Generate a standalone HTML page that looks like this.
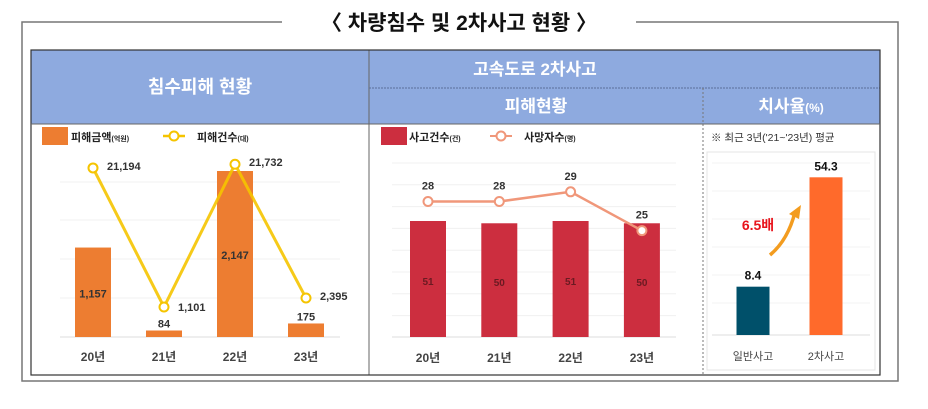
<!DOCTYPE html>
<html><head><meta charset="utf-8"><style>
html,body{margin:0;padding:0;background:#fff;}
svg{display:block;font-family:"Liberation Sans","Noto Sans CJK KR",sans-serif;}
</style></head><body>
<svg id="c" width="928" height="409" viewBox="0 0 928 409" xmlns="http://www.w3.org/2000/svg">
<g>
<polyline points="282,22 22,22 22,381 898,381 898,22 636,22" fill="none" stroke="#777" stroke-width="1.5"/>
</g>
<text x="459" y="30" text-anchor="middle" font-size="21" font-weight="bold" fill="#111">〈 차량침수 및 2차사고 현황 〉</text>
<g>
<rect x="31" y="50" width="849" height="74" fill="#8eaadf"/>
<line x1="369" y1="50" x2="369" y2="375" stroke="#666" stroke-width="1"/>
<line x1="369" y1="88" x2="880" y2="88" stroke="#5a6e99" stroke-dasharray="2,1"/>
<line x1="703" y1="88" x2="703" y2="375" stroke="#777" stroke-dasharray="2,2"/>
<rect x="31" y="50" width="849" height="325" fill="none" stroke="#333" stroke-width="1.2"/>
<line x1="31" y1="124" x2="880" y2="124" stroke="#666"/>
</g>
<text x="200" y="93" text-anchor="middle" font-size="18" font-weight="bold" fill="#fff">침수피해 현황</text>
<text x="535" y="75" text-anchor="middle" font-size="17" font-weight="bold" fill="#fff">고속도로 2차사고</text>
<text x="536" y="112" text-anchor="middle" font-size="17" font-weight="bold" fill="#fff">피해현황</text>
<text x="791" y="112" text-anchor="middle" font-size="17" font-weight="bold" fill="#fff">치사율<tspan font-size="12">(%)</tspan></text>

<g>
<rect x="42" y="127" width="26" height="18" fill="#ed7d31"/>
<text x="71" y="141" font-size="11" font-weight="bold" fill="#222">피해금액<tspan font-size="7">(억원)</tspan></text>
<line x1="163" y1="136" x2="185" y2="136" stroke="#f5c400" stroke-width="2.5"/>
<circle cx="174" cy="136" r="4.5" fill="#fff" stroke="#f5c400" stroke-width="2"/>
<text x="197" y="141" font-size="11" font-weight="bold" fill="#222">피해건수<tspan font-size="7">(대)</tspan></text>
</g>
<g>
<rect x="381" y="127" width="26" height="18" fill="#cc2e3f"/>
<text x="409" y="141" font-size="11" font-weight="bold" fill="#222">사고건수<tspan font-size="7">(건)</tspan></text>
<line x1="490" y1="136" x2="512" y2="136" stroke="#f0977a" stroke-width="2"/>
<circle cx="501" cy="136" r="4.5" fill="#fff" stroke="#f0977a" stroke-width="2"/>
<text x="524" y="141" font-size="11" font-weight="bold" fill="#222">사망자수<tspan font-size="7">(명)</tspan></text>
</g>
<text x="711" y="141" font-size="10.5" fill="#333">※ 최근 3년('21~'23년) 평균</text>
<rect x="707" y="152" width="168" height="218" fill="none" stroke="#e4e4e4"/>

<g id="left"></g><g id="mid"></g><g id="right"></g>

<g>
<path d="M770,255 Q788,240 795,212" fill="none" stroke="#f39c1f" stroke-width="3.5"/>
<polygon points="789,214 801,205 799,219" fill="#f39c1f"/>
<text x="758" y="230" text-anchor="middle" font-size="14" font-weight="bold" fill="#e8141c">6.5배</text>
</g>
<script>
const NS="http://www.w3.org/2000/svg";
const years=["20년","21년","22년","23년"];
const floodAmount=[1157,84,2147,175];
const floodCount=[21194,1101,21732,2395];
const accidents=[51,50,51,50];
const deaths=[28,28,29,25];
const rateCats=["일반사고","2차사고"];
const rateVals=[8.4,54.3];
function mk(p,tag,a,txt){const e=document.createElementNS(NS,tag);for(const k in a)e.setAttribute(k,a[k]);if(txt!==undefined)e.textContent=txt;p.appendChild(e);return e;}
const fmt=v=>v.toLocaleString("en-US");
// left chart
const L=document.getElementById("left");
const lx=i=>93+i*71, base=337;
const lyBar=v=>base-v*166/2147;
const lyLine=v=>314.6-v*0.00692;
[182,220,259,298].forEach(y=>mk(L,"line",{x1:60,y1:y,x2:340,y2:y,stroke:"#f0f0f0"}));
mk(L,"line",{x1:60,y1:base,x2:340,y2:base,stroke:"#ddd"});
floodAmount.forEach((v,i)=>{
 const r=mk(L,"rect",{x:lx(i)-18,y:lyBar(v),width:36,height:base-lyBar(v),fill:"#ed7d31"});
 
 
 const big=base-lyBar(v)>40;
 const t=mk(L,"text",{x:lx(i),y:big?(lyBar(v)+base)/2+5:lyBar(v)-3,"text-anchor":"middle","font-size":11,"font-weight":"bold",fill:"#333"},fmt(v));
 
 
 const xl=mk(L,"text",{x:lx(i),y:361,"text-anchor":"middle","font-size":12,"font-weight":"bold",fill:"#444"},years[i]);
 
 
});
const lp=mk(L,"polyline",{points:floodCount.map((v,i)=>lx(i)+","+lyLine(v)).join(" "),fill:"none",stroke:"#f5c400",opacity:0.9,"stroke-width":3});


floodCount.forEach((v,i)=>{
 const c=mk(L,"circle",{cx:lx(i),cy:lyLine(v),r:4.5,fill:"#fff",stroke:"#f5c400","stroke-width":2});
 
 
 const t=mk(L,"text",{x:lx(i)+14,y:lyLine(v)+(i==1?4:2),"font-size":11,"font-weight":"bold",fill:"#333"},fmt(v));
 
 
});
// middle chart
const M=document.getElementById("mid");
const mx=i=>428+i*71.3;
const myBar=v=>base-v*116/51;
const myLine=v=>201.5-(v-28)*9.7;
for(let k=0;k<8;k++)mk(M,"line",{x1:392,y1:163+k*21.8,x2:676,y2:163+k*21.8,stroke:"#f0f0f0"});
mk(M,"line",{x1:392,y1:base,x2:676,y2:base,stroke:"#ddd"});
accidents.forEach((v,i)=>{
 const r=mk(M,"rect",{x:mx(i)-18,y:myBar(v),width:36,height:base-myBar(v),fill:"#cc2e3f"});
 
 
 const t=mk(M,"text",{x:mx(i),y:(myBar(v)+base)/2+6,"text-anchor":"middle","font-size":10,"font-weight":"bold",fill:"#6b1a22"},v);
 
 
 const xl=mk(M,"text",{x:mx(i),y:362,"text-anchor":"middle","font-size":12,"font-weight":"bold",fill:"#444"},years[i]);
 
 
});
const mp=mk(M,"polyline",{points:deaths.map((v,i)=>mx(i)+","+myLine(v)).join(" "),fill:"none",stroke:"#f0977a","stroke-width":2.5});


deaths.forEach((v,i)=>{
 const c=mk(M,"circle",{cx:mx(i),cy:myLine(v),r:4.5,fill:"#fff",stroke:"#f0977a","stroke-width":2});
 
 
 const t=mk(M,"text",{x:mx(i),y:myLine(v)-12,"text-anchor":"middle","font-size":11,"font-weight":"bold",fill:"#333"},v);
 
 
});
// right chart
const R=document.getElementById("right");
const rx=i=>753+i*73, rb=335;
const ry=v=>rb-(28.3+v*2.383);
for(let k=0;k<6;k++)mk(R,"line",{x1:712,y1:163+k*28,x2:870,y2:163+k*28,stroke:"#f3f3f3"});
mk(R,"line",{x1:712,y1:rb,x2:870,y2:rb,stroke:"#ddd"});
const rc=["#00506a","#ff6a2b"];
rateVals.forEach((v,i)=>{
 const r=mk(R,"rect",{x:rx(i)-16.5,y:ry(v),width:33,height:rb-ry(v),fill:rc[i]});
 
 
 const t=mk(R,"text",{x:rx(i),y:ry(v)-7,"text-anchor":"middle","font-size":12,"font-weight":"bold",fill:"#111"},v.toFixed(1));
 
 
 const xl=mk(R,"text",{x:rx(i),y:360,"text-anchor":"middle","font-size":11,fill:"#444"},rateCats[i]);
 
 
});
</script>
</svg>
</body></html>
